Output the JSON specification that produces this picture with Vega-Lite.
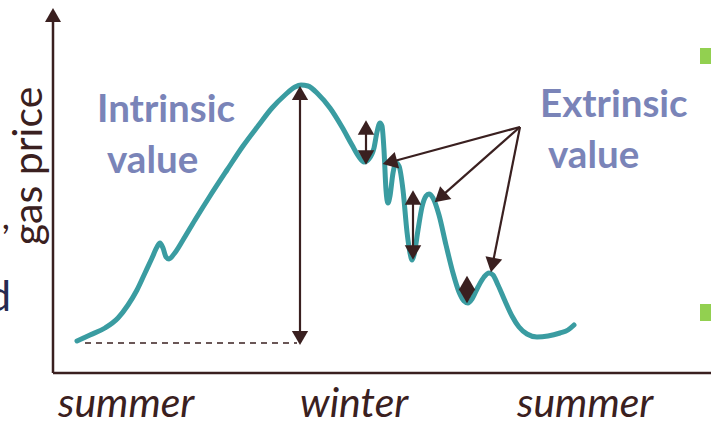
{
  "$schema": "https://vega.github.io/schema/vega-lite/v6.json",
  "width": 711,
  "height": 423,
  "padding": 0,
  "autosize": {"type": "none"},
  "background": "#ffffff",
  "config": {"view": {"stroke": null}},
  "datasets": {
    "curve": [
      {"x":77,"y":341},{"x":90,"y":335},{"x":105,"y":328},{"x":118,"y":318},{"x":128,"y":305},{"x":137,"y":290},{"x":145,"y":273},{"x":152,"y":258},{"x":157,"y":247},{"x":160,"y":243},{"x":163,"y":248},{"x":166,"y":257},{"x":169,"y":259},{"x":174,"y":254},{"x":183,"y":240},{"x":195,"y":220},{"x":210,"y":196},{"x":227,"y":170},{"x":243,"y":146},{"x":258,"y":126},{"x":272,"y":108},{"x":285,"y":95},{"x":295,"y":87},{"x":301,"y":85},{"x":308,"y":86},{"x":318,"y":94},{"x":330,"y":108},{"x":342,"y":127},{"x":352,"y":145},{"x":359,"y":157},{"x":364,"y":162},{"x":369,"y":159},{"x":374,"y":148},{"x":377,"y":132},{"x":380,"y":123},{"x":382,"y":126},{"x":384,"y":150},{"x":386,"y":190},{"x":388,"y":203},{"x":390,"y":196},{"x":393,"y":173},{"x":396,"y":163},{"x":399,"y":166},{"x":403,"y":190},{"x":407,"y":232},{"x":410,"y":253},{"x":412,"y":260},{"x":414,"y":255},{"x":418,"y":230},{"x":422,"y":207},{"x":426,"y":196},{"x":429,"y":194},{"x":433,"y":198},{"x":439,"y":215},{"x":446,"y":245},{"x":453,"y":273},{"x":459,"y":292},{"x":464,"y":301},{"x":468,"y":303},{"x":472,"y":299},{"x":478,"y":287},{"x":484,"y":277},{"x":489,"y":273},{"x":493,"y":275},{"x":498,"y":285},{"x":505,"y":301},{"x":512,"y":316},{"x":519,"y":327},{"x":527,"y":334},{"x":537,"y":337},{"x":548,"y":336},{"x":560,"y":333},{"x":568,"y":330},{"x":574,"y":325}
    ],
    "axes": [
      {"x":53,"y":15,"x2":53,"y2":373},
      {"x":53,"y":373,"x2":711,"y2":373}
    ],
    "stems": [
      {"x":300,"y":93,"x2":300,"y2":338},
      {"x":366,"y":127,"x2":366,"y2":158},
      {"x":413,"y":197,"x2":413,"y2":253},
      {"x":467,"y":283,"x2":467,"y2":296},
      {"x":520,"y":127,"x2":389.8,"y2":162.2},
      {"x":520,"y":127,"x2":440.2,"y2":197.4},
      {"x":520,"y":127,"x2":492.4,"y2":265.1}
    ],
    "dashed": [
      {"x":85,"y":343,"x2":297,"y2":343}
    ],
    "heads": [
      {"x":53,"y":15,"dir":0,"kind":"axis"},
      {"x":300,"y":93,"dir":0,"kind":"big"},
      {"x":300,"y":338,"dir":180,"kind":"big"},
      {"x":366,"y":127.5,"dir":0,"kind":"mid"},
      {"x":366,"y":157.5,"dir":180,"kind":"mid"},
      {"x":413,"y":197.5,"dir":0,"kind":"mid"},
      {"x":413,"y":252.5,"dir":180,"kind":"mid"},
      {"x":467,"y":283,"dir":0,"kind":"tiny"},
      {"x":467,"y":296,"dir":180,"kind":"tiny"},
      {"x":389.8,"y":162.2,"dir":254.9,"kind":"pointer"},
      {"x":440.2,"y":197.4,"dir":228.6,"kind":"pointer"},
      {"x":492.4,"y":265.1,"dir":191.3,"kind":"pointer"}
    ],
    "labels": [
      {"x":97,"y":122,"text":"Intrinsic"},
      {"x":107,"y":173,"text":"value"},
      {"x":540,"y":117,"text":"Extrinsic"},
      {"x":548,"y":168,"text":"value"}
    ],
    "seasons": [
      {"x":58,"y":417,"text":"summer"},
      {"x":300,"y":417,"text":"winter"},
      {"x":517,"y":417,"text":"summer"}
    ],
    "ylabel": [{"x":30,"y":166,"text":"gas price"}],
    "comma": [{"x":10,"y":229,"text":","}],
    "cut": [{"x":11,"y":311,"text":"d"}],
    "green": [
      {"x":700,"y":48,"x2":711,"y2":64},
      {"x":700,"y":304,"x2":711,"y2":321}
    ]
  },
  "encoding": {
    "x": {"field":"x","type":"quantitative","scale":{"domain":[0,711],"nice":false,"zero":false},"axis":null},
    "y": {"field":"y","type":"quantitative","scale":{"domain":[0,423],"nice":false,"zero":false,"reverse":true},"axis":null}
  },
  "layer": [
    {
      "data": {"name":"green"},
      "mark": {"type":"rect","color":"#92d050"},
      "encoding": {"x2":{"field":"x2"},"y2":{"field":"y2"}}
    },
    {
      "data": {"name":"dashed"},
      "mark": {"type":"rule","color":"#3a2020","strokeWidth":1.5,"strokeDash":[6,5]},
      "encoding": {"x2":{"field":"x2"},"y2":{"field":"y2"}}
    },
    {
      "data": {"name":"curve"},
      "mark": {"type":"line","color":"#3a9ca1","strokeWidth":5,"interpolate":"monotone","strokeCap":"round","strokeJoin":"round"},
      "encoding": {}
    },
    {
      "data": {"name":"axes"},
      "mark": {"type":"rule","color":"#3a2020","strokeWidth":2.5},
      "encoding": {"x2":{"field":"x2"},"y2":{"field":"y2"}}
    },
    {
      "data": {"name":"stems"},
      "mark": {"type":"rule","color":"#3a2020","strokeWidth":2.2},
      "encoding": {"x2":{"field":"x2"},"y2":{"field":"y2"}}
    },
    {
      "data": {"name":"heads"},
      "mark": {"type":"point","shape":"triangle-up","filled":true,"opacity":1,"color":"#3a2020"},
      "encoding": {
        "angle": {"field":"dir","type":"quantitative","scale":null},
        "size": {"field":"kind","type":"nominal","scale":{"domain":["axis","big","mid","tiny","pointer"],"range":[256,290,220,150,200]},"legend":null}
      }
    },
    {
      "data": {"name":"labels"},
      "mark": {"type":"text","align":"left","baseline":"alphabetic","font":"Lato","fontWeight":"bold","fontSize":38.5,"color":"#7a84b8"},
      "encoding": {"text":{"field":"text"}}
    },
    {
      "data": {"name":"seasons"},
      "mark": {"type":"text","align":"left","baseline":"alphabetic","font":"Lato","fontStyle":"italic","fontSize":41,"color":"#3a2020"},
      "encoding": {"text":{"field":"text"}}
    },
    {
      "data": {"name":"ylabel"},
      "mark": {"type":"text","align":"center","baseline":"middle","angle":270,"font":"Lato","fontSize":41,"color":"#3a2020"},
      "encoding": {"text":{"field":"text"}}
    },
    {
      "data": {"name":"comma"},
      "mark": {"type":"text","align":"right","baseline":"alphabetic","font":"Lato","fontSize":36,"color":"#3a2020"},
      "encoding": {"text":{"field":"text"}}
    },
    {
      "data": {"name":"cut"},
      "mark": {"type":"text","align":"right","baseline":"alphabetic","font":"Lato","fontSize":42,"color":"#262a50"},
      "encoding": {"text":{"field":"text"}}
    }
  ]
}
